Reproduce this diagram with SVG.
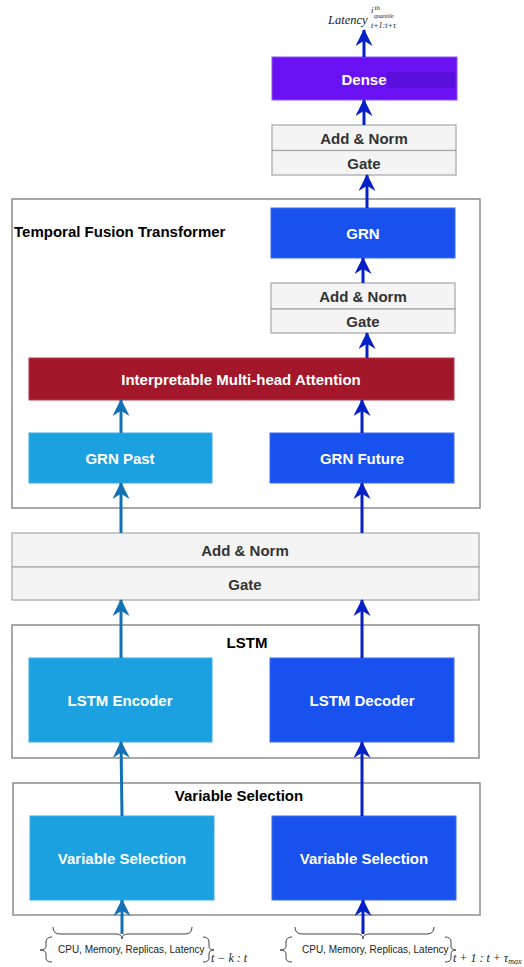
<svg xmlns="http://www.w3.org/2000/svg" width="524" height="967" viewBox="0 0 524 967">
  <style>
    .frame { fill: #ffffff; stroke: #8c8c8c; stroke-width: 1.5; }
    .norm { fill: #f4f4f4; stroke: #a6a6a6; stroke-width: 1.2; }
    .title { font-family: "Liberation Sans", Arial, sans-serif; font-weight: bold; font-size: 15px; fill: #000000; }
    .lbl { font-family: "Liberation Sans", Arial, sans-serif; font-weight: bold; font-size: 15px; fill: #ffffff; text-anchor: middle; dominant-baseline: central; }
    .nlbl { font-family: "Liberation Sans", Arial, sans-serif; font-weight: bold; font-size: 15px; fill: #333333; text-anchor: middle; dominant-baseline: central; }
    .inp { font-family: "Liberation Sans", Arial, sans-serif; font-size: 10px; fill: #222222; }
    .math { font-family: "Liberation Serif", "Times New Roman", serif; font-style: italic; fill: #222222; }
    .past { fill: #1ca1e0; stroke: #3aaee6; stroke-width: 1; }
    .future { fill: #1851ee; stroke: #3a6cf2; stroke-width: 1; }
    .brace { fill: none; stroke: #444444; stroke-width: 1; }
    .aL { stroke: #1270b5; stroke-width: 3; fill: none; marker-end: url(#headL); }
    .aR { stroke: #0620c8; stroke-width: 3; fill: none; marker-end: url(#headR); }
  </style>
  <defs>
    <marker id="headL" viewBox="0 0 16 16" refX="15" refY="8" markerWidth="17" markerHeight="17" markerUnits="userSpaceOnUse" orient="auto">
      <path d="M0,0 L16,8 L0,16 L5,8 z" fill="#1270b5"/>
    </marker>
    <marker id="headR" viewBox="0 0 16 16" refX="15" refY="8" markerWidth="17" markerHeight="17" markerUnits="userSpaceOnUse" orient="auto">
      <path d="M0,0 L16,8 L0,16 L5,8 z" fill="#0620c8"/>
    </marker>
  </defs>

  <!-- container frames -->
  <g id="tft-frame">
    <rect class="frame" x="12" y="199" width="468" height="309"/>
    <text class="title" x="14" y="237" font-size="16">Temporal Fusion Transformer</text>
  </g>
  <g id="lstm-frame">
    <rect class="frame" x="12" y="625" width="467" height="133"/>
    <text class="title" x="247" y="648" text-anchor="middle">LSTM</text>
  </g>
  <g id="vs-frame">
    <rect class="frame" x="13" y="783" width="467" height="132"/>
    <text class="title" x="239" y="801" text-anchor="middle">Variable Selection</text>
  </g>

  <!-- output head -->
  <g id="dense">
    <rect x="272" y="57" width="185" height="43" fill="#6a11f4" stroke="#8a55f7" stroke-width="1"/>
    <rect x="387" y="72" width="68" height="16" fill="#5b0fdc"/>
    <text class="lbl" x="364" y="79">Dense</text>
  </g>
  <g id="addnorm-top">
    <rect class="norm" x="272" y="125" width="184" height="25.5"/>
    <rect class="norm" x="272" y="150.5" width="184" height="24.5"/>
    <text class="nlbl" x="364" y="138">Add &amp; Norm</text>
    <text class="nlbl" x="364" y="163">Gate</text>
  </g>
  <g id="grn">
    <rect class="future" x="271" y="208" width="184" height="50"/>
    <text class="lbl" x="363" y="233">GRN</text>
  </g>
  <g id="addnorm-mid">
    <rect class="norm" x="271" y="283" width="184" height="26"/>
    <rect class="norm" x="271" y="309" width="184" height="24"/>
    <text class="nlbl" x="363" y="296">Add &amp; Norm</text>
    <text class="nlbl" x="363" y="321">Gate</text>
  </g>
  <g id="attention">
    <rect x="29" y="358" width="425" height="42" fill="#a3172a" stroke="#b8394a" stroke-width="1"/>
    <text class="lbl" x="241" y="379" font-size="14">Interpretable Multi-head Attention</text>
  </g>
  <g id="grn-past">
    <rect class="past" x="29" y="433" width="183" height="50"/>
    <text class="lbl" x="120" y="458">GRN Past</text>
  </g>
  <g id="grn-future">
    <rect class="future" x="270" y="433" width="184" height="50"/>
    <text class="lbl" x="362" y="458">GRN Future</text>
  </g>
  <g id="addnorm-wide">
    <rect class="norm" x="12" y="533" width="467" height="34"/>
    <rect class="norm" x="12" y="567" width="467" height="33"/>
    <text class="nlbl" x="245" y="550">Add &amp; Norm</text>
    <text class="nlbl" x="245" y="584">Gate</text>
  </g>
  <g id="lstm-encoder">
    <rect class="past" x="29" y="658" width="183" height="84"/>
    <text class="lbl" x="120" y="700">LSTM Encoder</text>
  </g>
  <g id="lstm-decoder">
    <rect class="future" x="270" y="658" width="184" height="84"/>
    <text class="lbl" x="362" y="700">LSTM Decoder</text>
  </g>
  <g id="vs-past">
    <rect class="past" x="30" y="816" width="184" height="84"/>
    <text class="lbl" x="122" y="858">Variable Selection</text>
  </g>
  <g id="vs-future">
    <rect class="future" x="272" y="816" width="184" height="84"/>
    <text class="lbl" x="364" y="858">Variable Selection</text>
  </g>

  <!-- inputs -->
  <g id="input-past">
    <path class="brace" d="M53,927 Q53,934 60,934 L116,934 Q122,934 122,939 Q122,934 128,934 L185,934 Q192,934 192,927"/>
    <path class="brace" d="M52,937 Q46,937 46,942 L46,946 Q46,950 40,950 Q46,950 46,954 L46,958 Q46,962 52,962"/>
    <text class="inp" x="58" y="953">CPU, Memory, Replicas, Latency</text>
    <path class="brace" d="M203,937 Q209,937 209,942 L209,946 Q209,950 214,950 Q209,950 209,954 L209,958 Q209,962 203,962"/>
    <text class="math" x="211" y="962" font-size="12">t − k : t</text>
  </g>
  <g id="input-future">
    <path class="brace" d="M295,927 Q295,934 302,934 L357,934 Q363,934 363,939 Q363,934 369,934 L427,934 Q434,934 434,927"/>
    <path class="brace" d="M292,937 Q286,937 286,942 L286,946 Q286,950 280,950 Q286,950 286,954 L286,958 Q286,962 292,962"/>
    <text class="inp" x="302" y="953">CPU, Memory, Replicas, Latency</text>
    <path class="brace" d="M445,937 Q451,937 451,942 L451,946 Q451,950 456,950 Q451,950 451,954 L451,958 Q451,962 445,962"/>
    <text class="math" x="453" y="962" font-size="12">t + 1 : t + τ<tspan font-size="8" dy="2">max</tspan></text>
  </g>

  <!-- output label -->
  <g id="output">
    <text class="math" x="328" y="24" font-size="12.5">Latency</text>
    <text class="math" x="371" y="13" font-size="9">i</text>
    <text class="math" x="374.5" y="10" font-size="7">th</text>
    <text class="math" x="374" y="17.5" font-size="6">quantile</text>
    <text class="math" x="371" y="28" font-size="8">t+1:t+τ</text>
  </g>

  <!-- connectors -->
  <g id="connectors">
    <line class="aL" x1="122" y1="934" x2="122" y2="900"/>
    <line class="aL" x1="122" y1="816" x2="121" y2="742"/>
    <line class="aL" x1="121" y1="658" x2="121" y2="600"/>
    <line class="aL" x1="121" y1="533" x2="121" y2="483"/>
    <line class="aL" x1="121" y1="433" x2="121" y2="400"/>

    <line class="aR" x1="363" y1="934" x2="363" y2="900"/>
    <line class="aR" x1="362" y1="816" x2="362" y2="742"/>
    <line class="aR" x1="362" y1="658" x2="362" y2="600"/>
    <line class="aR" x1="362" y1="533" x2="362" y2="483"/>
    <line class="aR" x1="362" y1="433" x2="362" y2="400"/>
    <line class="aR" x1="367" y1="358" x2="367" y2="333"/>
    <line class="aR" x1="363" y1="283" x2="363" y2="258"/>
    <line class="aR" x1="367" y1="208" x2="367" y2="175"/>
    <line class="aR" x1="364" y1="125" x2="364" y2="100"/>
    <line class="aR" x1="364" y1="57" x2="364" y2="30"/>
  </g>
</svg>
